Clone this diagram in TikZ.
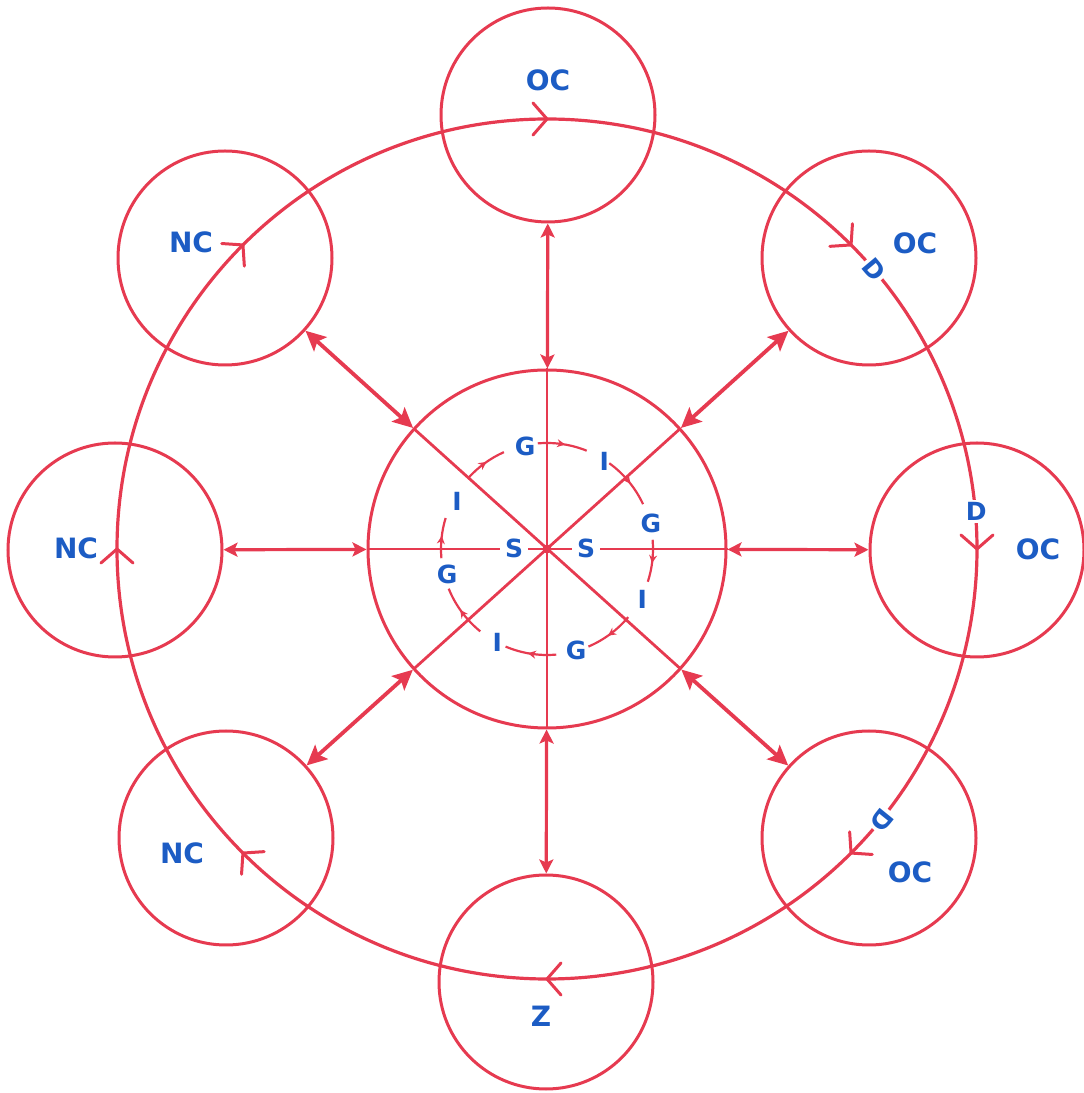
\documentclass[tikz,border=0pt]{standalone}
\usepackage{fontspec}
\setmainfont{DejaVu Sans}
\usetikzlibrary{arrows.meta,decorations.markings,calc}
\definecolor{lred}{RGB}{230,58,80}
\definecolor{lblue}{RGB}{28,92,196}
\begin{document}
\begin{tikzpicture}[x=1pt,y=1pt,
  ring/.style={circle,draw=lred,line width=3pt,minimum size=214pt,inner sep=0pt},
  hub/.style={circle,draw=lred,line width=3pt,minimum size=358pt,inner sep=0pt},
  lab/.style={text=lblue,font=\bfseries\fontsize{28}{28}\selectfont,inner sep=1pt},
  slab/.style={text=lblue,font=\bfseries\fontsize{25}{25}\selectfont,inner sep=1pt},
  dlab/.style={text=lblue,font=\bfseries\fontsize{25}{25}\selectfont,inner sep=2pt,fill=white},
  straightlink/.style={draw=lred,line width=3.2pt,{Stealth[length=14pt,width=14pt,inset=3pt]}-{Stealth[length=14pt,width=14pt,inset=3pt]}},
  diaglink/.style={draw=lred,line width=3.8pt,{Stealth[length=20pt,width=19pt,inset=4pt]}-{Stealth[length=20pt,width=19pt,inset=4pt]}},
  innerline/.style={draw=lred,line width=2.8pt},
  orbit/.style={draw=lred,line width=3.2pt},
  chev/.style={draw=lred,line width=3pt,line cap=round},
  cyc/.style={draw=lred,line width=2.2pt,postaction={decorate},
    decoration={markings,mark=at position 0.55 with {\arrow{Stealth[length=8pt,width=8pt]}}}}
]
\useasboundingbox (0,0) rectangle (1084,1093);

% circles
\node[hub] (cen) at (547,544) {};
\node[ring] (top) at (548,978) {};
\node[ring] (bot) at (546,111) {};
\node[ring] (left) at (115,543) {};
\node[ring] (right) at (977,543) {};
\node[ring] (TL) at (225,835) {};
\node[ring] (TR) at (869,835) {};
\node[ring] (BL) at (226,255) {};
\node[ring] (BR) at (869,255) {};

% orbit
\draw[orbit] (cen) circle[radius=430];
\foreach \a in {90,45,0,-45,-90,-135,180,135}{
  \draw[chev,shift={($(cen)+(\a:430)$)},rotate=\a-90] (-14,16) -- (0,0) -- (-14,-16);
}

% radial connectors
\draw[straightlink] (cen) -- (top);
\draw[straightlink] (cen) -- (bot);
\draw[straightlink] (cen) -- (left);
\draw[straightlink] (cen) -- (right);
\draw[diaglink] (cen) -- (TL);
\draw[diaglink] (cen) -- (TR);
\draw[diaglink] (cen) -- (BL);
\draw[diaglink] (cen) -- (BR);

% inner lines
\draw[innerline] (cen.north) -- (cen.south);
\draw[innerline] (cen.west) -- (cen.east);
\draw[innerline] ($(cen)!179pt!(TL)$) -- ($(cen)!179pt!(BR)$);
\draw[innerline] ($(cen)!179pt!(TR)$) -- ($(cen)!179pt!(BL)$);
\fill[lred] (cen) circle[radius=4.5];

\node[slab,fill=white,inner sep=5pt] (s1) at (514,545) {S};
\node[slab,fill=white,inner sep=5pt] (s2) at (586,545) {S};

% inner cycle
\node[slab] (g1) at ($(cen)+(102:105)$) {G};
\node[slab] (i1) at ($(cen)+(57:105)$) {I};
\node[slab] (g2) at ($(cen)+(14:107)$) {G};
\node[slab] (i2) at ($(cen)+(-28:108)$) {I};
\node[slab] (g3) at ($(cen)+(-74:106)$) {G};
\node[slab] (i3) at ($(cen)+(-118:106)$) {I};
\node[slab] (g4) at ($(cen)+(-166:103)$) {G};
\node[slab] (i4) at ($(cen)+(152:102)$) {I};
\foreach \s/\e in {95/68,54/25,5/-18,-40/-67,-85/-113,-129/-158,-175/-197,138/114}{
  \draw[cyc] ($(cen)+(\s:106)$) arc[start angle=\s,end angle=\e,radius=106];
}

% outer labels
\node[lab] (oc1) at (548,1013) {OC};
\node[lab] (oc2) at (915,850) {OC};
\node[lab] (oc3) at (1038,544) {OC};
\node[lab] (oc4) at (910,221) {OC};
\node[lab] (z) at (541,77) {Z};
\node[lab] (nc1) at (182,240) {NC};
\node[lab] (nc2) at (76,545) {NC};
\node[lab] (nc3) at (191,851) {NC};
\node[dlab,rotate=-50] (d1) at ($(cen)+(40.5:430)$) {D};
\node[dlab] (d2) at ($(cen)+(5:431)$) {D};
\node[dlab,rotate=-129] (d3) at ($(cen)+(-39:431)$) {D};
\end{tikzpicture}
\end{document}
